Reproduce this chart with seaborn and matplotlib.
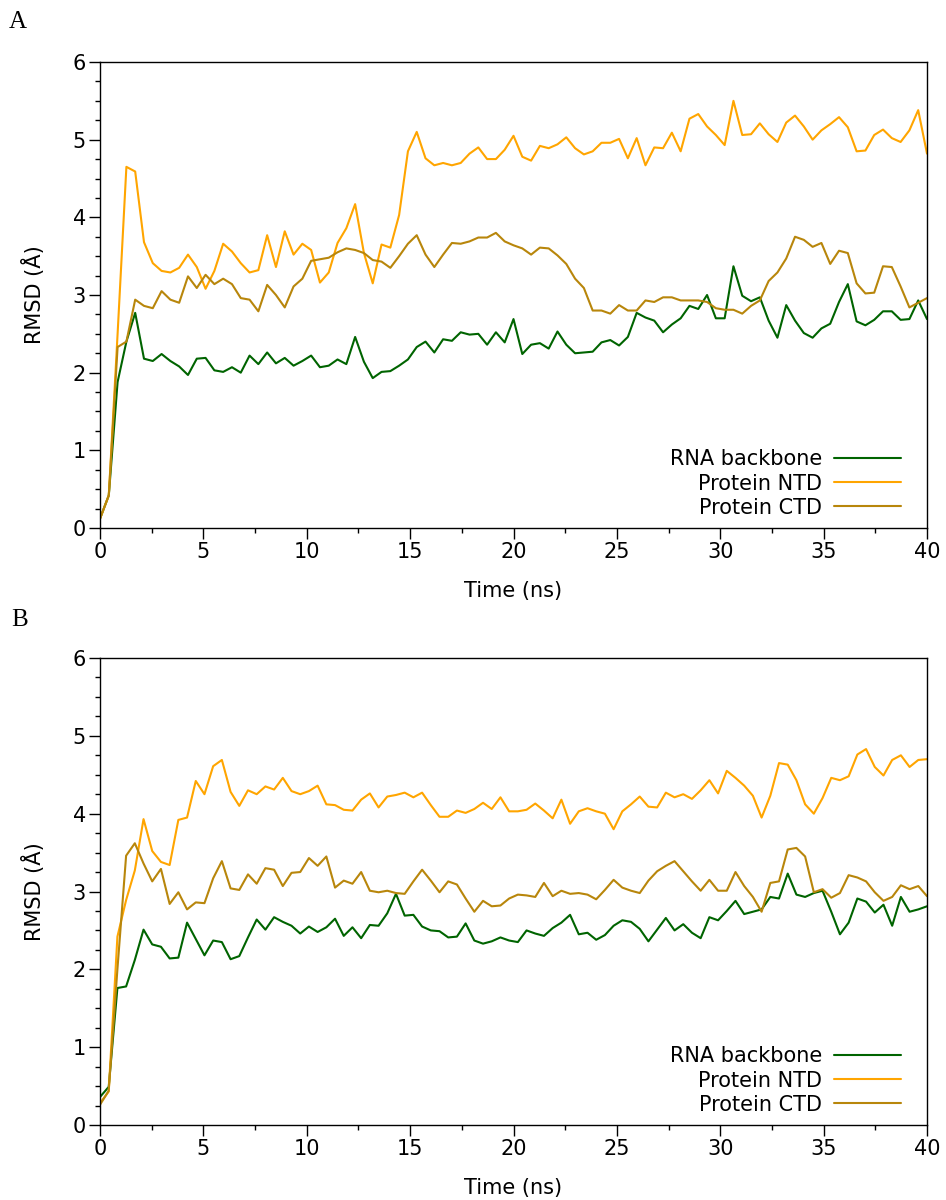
import numpy as np
import pandas as pd
import matplotlib
matplotlib.use("Agg")
import matplotlib.pyplot as plt
from matplotlib.ticker import MultipleLocator
import seaborn as sns

# ---------------- data ----------------
# Panel A: 95 frames over 0-40 ns
time_a = np.linspace(0, 40, 95)
rna_a = [0.12, 0.42, 1.88, 2.40, 2.77, 2.18, 2.15, 2.24, 2.15, 2.08, 1.97, 2.18, 2.19, 2.03, 2.01, 2.07,
         2.00, 2.22, 2.11, 2.26, 2.12, 2.19, 2.09, 2.15, 2.22, 2.07, 2.09, 2.17, 2.11, 2.46, 2.14, 1.93,
         2.01, 2.02, 2.09, 2.17, 2.33, 2.40, 2.26, 2.43, 2.41, 2.52, 2.49, 2.50, 2.36, 2.52, 2.39, 2.69,
         2.24, 2.36, 2.38, 2.31, 2.53, 2.36, 2.25, 2.26, 2.27, 2.39, 2.42, 2.35, 2.46, 2.77, 2.71,
         2.67, 2.52, 2.62, 2.70, 2.86, 2.82, 3.00, 2.70, 2.70, 3.37, 2.99, 2.92, 2.97, 2.67, 2.45, 2.87,
         2.67, 2.51, 2.45, 2.57, 2.63, 2.91, 3.14, 2.66, 2.61, 2.68, 2.79, 2.79, 2.68, 2.69, 2.93, 2.69]
ntd_a = [0.12, 0.42, 2.50, 4.65, 4.59, 3.68, 3.41, 3.31, 3.29, 3.35, 3.52, 3.36, 3.08, 3.31, 3.66, 3.56,
         3.41, 3.29, 3.32, 3.77, 3.36, 3.82, 3.52, 3.66, 3.58, 3.16, 3.29, 3.67, 3.86, 4.17, 3.54, 3.15,
         3.65, 3.61, 4.03, 4.85, 5.10, 4.76, 4.67, 4.70, 4.67, 4.70, 4.82, 4.90, 4.75, 4.75, 4.87, 5.05,
         4.78, 4.73, 4.92, 4.89, 4.94, 5.03, 4.89, 4.81, 4.85, 4.96, 4.96, 5.01, 4.76, 5.02, 4.67,
         4.90, 4.89, 5.09, 4.85, 5.27, 5.33, 5.17, 5.06, 4.93, 5.50, 5.06, 5.07, 5.21, 5.07, 4.97, 5.22,
         5.31, 5.17, 5.00, 5.12, 5.20, 5.29, 5.16, 4.85, 4.86, 5.06, 5.13, 5.02, 4.97, 5.12, 5.38, 4.82]
ctd_a = [0.12, 0.42, 2.33, 2.40, 2.94, 2.86, 2.83, 3.05, 2.94, 2.90, 3.24, 3.09, 3.26, 3.14, 3.21, 3.14,
         2.96, 2.94, 2.79, 3.13, 3.00, 2.84, 3.11, 3.21, 3.44, 3.46, 3.48, 3.55, 3.60, 3.58, 3.54, 3.45,
         3.43, 3.35, 3.50, 3.66, 3.77, 3.52, 3.36, 3.52, 3.67, 3.66, 3.69, 3.74, 3.74, 3.80, 3.69, 3.64,
         3.60, 3.52, 3.61, 3.60, 3.51, 3.40, 3.21, 3.09, 2.80, 2.80, 2.76, 2.87, 2.80, 2.80, 2.93,
         2.91, 2.97, 2.97, 2.93, 2.93, 2.93, 2.91, 2.83, 2.81, 2.81, 2.76, 2.86, 2.93, 3.18, 3.29, 3.47,
         3.75, 3.71, 3.62, 3.67, 3.40, 3.57, 3.54, 3.15, 3.02, 3.03, 3.37, 3.36, 3.11, 2.84, 2.90, 2.96]

# Panel B: 96 frames over 0-40 ns
time_b = np.linspace(0, 40, 96)
rna_b = [0.36, 0.49, 1.76, 1.78, 2.12, 2.51, 2.32, 2.29, 2.14, 2.15, 2.60, 2.39, 2.18, 2.37, 2.35, 2.13,
         2.17, 2.41, 2.64, 2.51, 2.67, 2.61, 2.56, 2.46, 2.55, 2.48, 2.54, 2.65, 2.43, 2.54, 2.40, 2.57,
         2.56, 2.72, 2.97, 2.69, 2.70, 2.55, 2.50, 2.49, 2.41, 2.42, 2.59, 2.37, 2.33, 2.36, 2.41, 2.37,
         2.35, 2.50, 2.46, 2.43, 2.53, 2.60, 2.70, 2.45, 2.47, 2.38, 2.44, 2.56, 2.63, 2.61, 2.52, 2.36,
         2.51, 2.66, 2.50, 2.58, 2.47, 2.40, 2.67, 2.63, 2.75, 2.88, 2.71, 2.74, 2.77, 2.93, 2.91, 3.23,
         2.96, 2.93, 2.98, 3.01, 2.74, 2.45, 2.60, 2.91, 2.87, 2.73, 2.83, 2.56, 2.93, 2.74, 2.77, 2.81]
ntd_b = [0.28, 0.43, 2.42, 2.89, 3.27, 3.93, 3.52, 3.38, 3.34, 3.92, 3.95, 4.42, 4.25, 4.61, 4.69, 4.28,
         4.10, 4.30, 4.25, 4.35, 4.31, 4.46, 4.29, 4.25, 4.29, 4.36, 4.12, 4.11, 4.05, 4.04, 4.18, 4.26,
         4.08, 4.22, 4.24, 4.27, 4.21, 4.27, 4.11, 3.96, 3.96, 4.04, 4.01, 4.06, 4.14, 4.06, 4.21, 4.03,
         4.03, 4.05, 4.13, 4.04, 3.94, 4.18, 3.87, 4.03, 4.07, 4.03, 4.00, 3.80, 4.03, 4.12, 4.22, 4.09,
         4.08, 4.27, 4.21, 4.25, 4.19, 4.30, 4.43, 4.26, 4.55, 4.46, 4.36, 4.23, 3.95, 4.23, 4.65, 4.63,
         4.43, 4.12, 4.00, 4.20, 4.46, 4.43, 4.48, 4.76, 4.83, 4.60, 4.49, 4.69, 4.75, 4.60, 4.69, 4.70]
ctd_b = [0.26, 0.44, 2.00, 3.46, 3.62, 3.36, 3.13, 3.29, 2.84, 2.99, 2.77, 2.86, 2.85, 3.17, 3.39, 3.04,
         3.02, 3.22, 3.10, 3.30, 3.28, 3.07, 3.24, 3.25, 3.43, 3.33, 3.45, 3.05, 3.14, 3.10, 3.25, 3.01,
         2.99, 3.01, 2.98, 2.97, 3.13, 3.28, 3.14, 2.99, 3.13, 3.09, 2.91, 2.74, 2.88, 2.81, 2.82, 2.91,
         2.96, 2.95, 2.93, 3.11, 2.94, 3.01, 2.97, 2.98, 2.96, 2.90, 3.02, 3.15, 3.05, 3.01, 2.98, 3.14,
         3.26, 3.33, 3.39, 3.26, 3.13, 3.01, 3.15, 3.01, 3.01, 3.25, 3.07, 2.93, 2.74, 3.11, 3.13, 3.54,
         3.56, 3.45, 2.99, 3.03, 2.92, 2.98, 3.21, 3.18, 3.13, 2.99, 2.88, 2.93, 3.08, 3.03, 3.07, 2.94]

series_names = ["RNA backbone", "Protein NTD", "Protein CTD"]
series_colors = ["#006400", "#FFA500", "#B8860B"]
panel_labels = ["A", "B"]

# ---------------- figure ----------------
sns.set_theme(style="white")
plt.rcParams["font.family"] = ["DejaVu Sans"]
plt.rcParams["axes.linewidth"] = 1.0
plt.rcParams["text.color"] = "black"
plt.rcParams["axes.labelcolor"] = "black"
plt.rcParams["xtick.color"] = "black"
plt.rcParams["ytick.color"] = "black"
plt.rcParams["axes.edgecolor"] = "black"

fig = plt.figure(figsize=(9.46, 12.0), dpi=100)
W, H = 946.0, 1200.0
ax_a = fig.add_axes([100 / W, 1 - 528 / H, 827 / W, 466 / H])
ax_b = fig.add_axes([100 / W, 1 - 1125 / H, 827 / W, 467 / H])

panels = [
    (ax_a, time_a, [rna_a, ntd_a, ctd_a]),
    (ax_b, time_b, [rna_b, ntd_b, ctd_b]),
]

for (ax, t, ys) in panels:
    frames = []
    for name, y in zip(series_names, ys):
        frames.append(pd.DataFrame({"Time": t, "RMSD": y, "Series": name}))
    df = pd.concat(frames, ignore_index=True)
    sns.lineplot(data=df, x="Time", y="RMSD", hue="Series", hue_order=series_names,
                 palette=series_colors, linewidth=1.5, ax=ax, estimator=None, sort=False)
    ax.set_xlim(0, 40)
    ax.set_ylim(0, 6)
    ax.xaxis.set_major_locator(MultipleLocator(5))
    ax.xaxis.set_minor_locator(MultipleLocator(2.5))
    ax.yaxis.set_major_locator(MultipleLocator(1))
    ax.yaxis.set_minor_locator(MultipleLocator(0.25))
    ax.tick_params(axis="both", which="major", direction="out", length=8, width=1.0,
                   color="black", labelcolor="black", labelsize=15, pad=2,
                   bottom=True, left=True, top=False, right=False)
    ax.tick_params(axis="both", which="minor", direction="out", length=3.5, width=1.0,
                   color="black", bottom=True, left=True, top=False, right=False)
    for sp in ax.spines.values():
        sp.set_visible(True)
        sp.set_color("black")
        sp.set_linewidth(1.0)
    ax.set_xlabel("Time (ns)", fontsize=15, labelpad=14, color="black")
    ax.set_ylabel("RMSD (Å)", fontsize=15, labelpad=20, color="black")
    ax.grid(False)
    leg = ax.legend(loc="lower right", bbox_to_anchor=(0.9686, 0.022), frameon=False,
                    fontsize=15, markerfirst=False, handlelength=3.2, handletextpad=0.6,
                    labelspacing=0.2, borderaxespad=0, borderpad=0)
    for txt in leg.get_texts():
        txt.set_color("black")

fig.text(18 / W, 1 - 22 / H, panel_labels[0], fontsize=18, family="Liberation Serif",
         ha="center", va="center", color="black")
fig.text(20 / W, 1 - 620 / H, panel_labels[1], fontsize=18, family="Liberation Serif",
         ha="center", va="center", color="black")

fig.savefig("out.png", dpi=100, facecolor="white")
